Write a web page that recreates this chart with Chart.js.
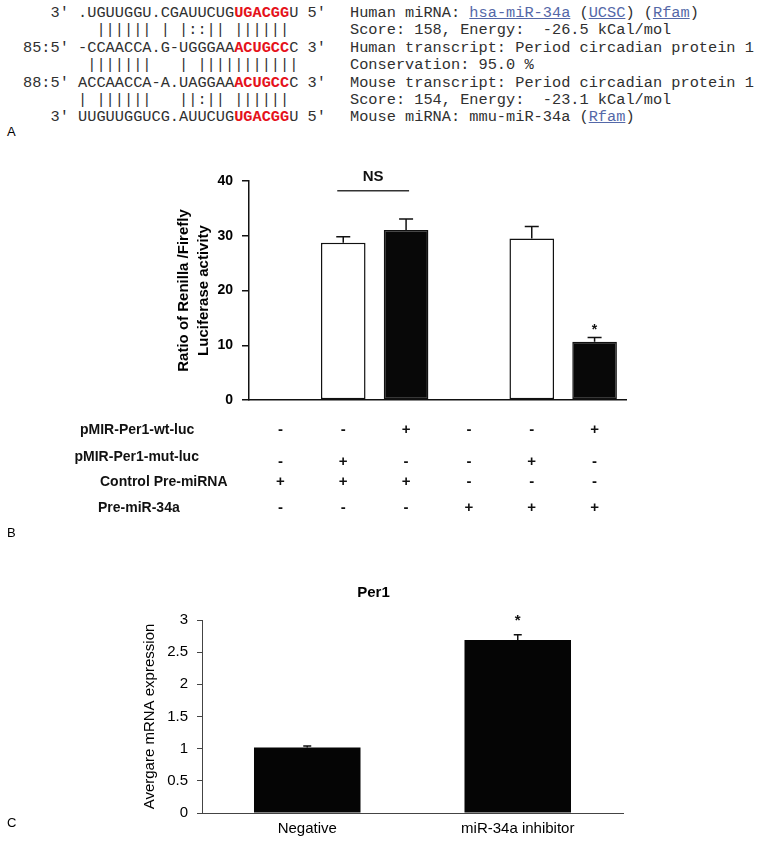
<!DOCTYPE html>
<html><head><meta charset="utf-8">
<script src="https://cdn.jsdelivr.net/npm/chart.js@4"></script>
<style>
html,body{margin:0;padding:0;background:#fff;width:762px;height:844px;overflow:hidden;position:relative;}
.mono{position:absolute;top:5px;margin:0;font-family:"Liberation Mono",monospace;font-size:15.3px;line-height:17.4px;white-space:pre;color:#303030;}
.red{color:#e5121b;font-weight:bold;}
.lnk{color:#5468a8;text-decoration:underline;}
.plabel{position:absolute;left:7px;font-family:"Liberation Sans",Arial,sans-serif;font-size:13px;line-height:13px;color:#000;z-index:2;}
canvas{position:absolute;left:0;}
#cb{top:150px;}
#cc{top:570px;}
</style></head>
<body>
<pre class="mono" style="left:23px;">   3' .UGUUGGU.CGAUUCUG<span class="red">UGACGG</span>U 5'
        |||||| | |::|| ||||||
85:5' -CCAACCA.G-UGGGAA<span class="red">ACUGCC</span>C 3'
       |||||||   | |||||||||||
88:5' ACCAACCA-A.UAGGAA<span class="red">ACUGCC</span>C 3'
      | ||||||   ||:|| ||||||
   3' UUGUUGGUCG.AUUCUG<span class="red">UGACGG</span>U 5'</pre>
<pre class="mono" style="left:350px;">Human miRNA: <span class="lnk">hsa-miR-34a</span> (<span class="lnk">UCSC</span>) (<span class="lnk">Rfam</span>)
Score: 158, Energy:  -26.5 kCal/mol
Human transcript: Period circadian protein 1
Conservation: 95.0 %
Mouse transcript: Period circadian protein 1
Score: 154, Energy:  -23.1 kCal/mol
Mouse miRNA: mmu-miR-34a (<span class="lnk">Rfam</span>)</pre>
<div class="plabel" style="top:125px;">A</div>
<div class="plabel" style="top:526px;">B</div>
<div class="plabel" style="top:816px;">C</div>
<canvas id="cb" width="762" height="400"></canvas>
<canvas id="cc" width="762" height="274"></canvas>
<script>
// ---------- data ----------
const barCategories = ['1', '2', '3', '4', '5', '6'];
const ratioValues = [0, 28.7, 31.05, 0, 29.5, 10.65];
const ratioErrors = [0, 1.1, 2.0, 0, 2.2, 0.75];
const ratioTicks = [0, 10, 20, 30, 40];
const ratioTitle = ['Ratio of Renilla /Firefly', 'Luciferase activity'];
const tableRowLabels = ['pMIR-Per1-wt-luc', 'pMIR-Per1-mut-luc', 'Control Pre-miRNA', 'Pre-miR-34a'];
const wtLucRow = ['-', '-', '+', '-', '-', '+'];
const mutLucRow = ['-', '+', '-', '-', '+', '-'];
const controlRow = ['+', '+', '+', '-', '-', '-'];
const preMirRow = ['-', '-', '-', '+', '+', '+'];
const nsPair = [1, 2];
const nsLevel = 38.2;
const nsTextLevel = 40.8;
const starBIndex = 5;
const starBLevel = 13.5;

const per1Categories = ['Negative', 'miR-34a inhibitor'];
const per1Values = [1.02, 2.69];
const per1Errors = [0.02, 0.08];
const per1Ticks = [0, 0.5, 1, 1.5, 2, 2.5, 3];
const per1Title = 'Per1';
const per1AxisTitle = 'Avergare mRNA expression';
const starCIndex = 1;
const starCLevel = 3.06;

// ---------- helpers ----------
const SANS = '"Liberation Sans", Arial, sans-serif';
Chart.defaults.font.family = SANS;
Chart.defaults.color = '#000';

const errorBars = {
  id: 'errorBars',
  afterDatasetsDraw(chart, args, opts) {
    const {ctx, scales: {x, y}} = chart;
    const vals = chart.data.datasets[0].data;
    ctx.save();
    ctx.strokeStyle = opts.color;
    ctx.lineWidth = opts.lineWidth;
    opts.errors.forEach((e, i) => {
      if (!e) return;
      const px = x.getPixelForValue(i);
      const top = y.getPixelForValue(vals[i]);
      const end = y.getPixelForValue(vals[i] + e);
      ctx.beginPath();
      ctx.moveTo(px, top); ctx.lineTo(px, end);
      ctx.moveTo(px - opts.cap / 2, end); ctx.lineTo(px + opts.cap / 2, end);
      ctx.stroke();
    });
    ctx.restore();
  }
};

const annotB = {
  id: 'annotB',
  afterDraw(chart) {
    const {ctx, scales: {x, y}} = chart;
    ctx.save();
    // NS bracket
    const x1 = x.getPixelForValue(nsPair[0]) - 6;
    const x2 = x.getPixelForValue(nsPair[1]) + 3;
    const ly = y.getPixelForValue(nsLevel);
    ctx.strokeStyle = '#333'; ctx.lineWidth = 1.5;
    ctx.beginPath(); ctx.moveTo(x1, ly); ctx.lineTo(x2, ly); ctx.stroke();
    ctx.fillStyle = '#111';
    ctx.font = 'bold 15px ' + SANS;
    ctx.textAlign = 'center'; ctx.textBaseline = 'middle';
    ctx.fillText('NS', (x1 + x2) / 2, y.getPixelForValue(nsTextLevel));
    // asterisk
    ctx.font = 'bold 14px ' + SANS;
    ctx.textBaseline = 'alphabetic';
    ctx.fillText('*', x.getPixelForValue(starBIndex), y.getPixelForValue(starBLevel) + 7.8);
    // table
    const rows = [wtLucRow, mutLucRow, controlRow, preMirRow];
    const labelX = [80, 74.5, 100, 98];
    const labelY = [280, 306.7, 331.7, 358];
    const signY = [280, 311.7, 331.7, 358];
    ctx.textBaseline = 'middle';
    ctx.font = 'bold 14px ' + SANS;
    ctx.textAlign = 'left';
    tableRowLabels.forEach((t, r) => ctx.fillText(t, labelX[r], labelY[r]));
    ctx.font = 'bold 15px ' + SANS;
    ctx.textAlign = 'center';
    rows.forEach((row, r) => row.forEach((s, i) => {
      ctx.fillText(s, x.getPixelForValue(i), signY[r]);
    }));
    ctx.restore();
  }
};

const annotC = {
  id: 'annotC',
  afterDraw(chart) {
    const {ctx, scales: {x, y}} = chart;
    ctx.save();
    ctx.fillStyle = '#111';
    ctx.font = 'bold 15px ' + SANS;
    ctx.textAlign = 'center'; ctx.textBaseline = 'alphabetic';
    ctx.fillText('*', x.getPixelForValue(starCIndex), y.getPixelForValue(starCLevel) + 8.4);
    ctx.restore();
  }
};

// ---------- chart B ----------
new Chart(document.getElementById('cb'), {
  type: 'bar',
  data: {
    labels: barCategories,
    datasets: [{
      data: ratioValues,
      backgroundColor: wtLucRow.map(s => s === '+' ? '#080808' : '#ffffff'),
      borderColor: '#111',
      borderWidth: 1.5,
      borderSkipped: false,
      categoryPercentage: 1,
      barPercentage: 0.71
    }]
  },
  options: {
    responsive: false, animation: false,
    layout: {padding: {left: 165, right: 136, top: 31, bottom: 0}},
    plugins: {legend: {display: false}, tooltip: {enabled: false},
      errorBars: {errors: ratioErrors, cap: 14, lineWidth: 1.5, color: '#111'}},
    scales: {
      x: {
        grid: {display: false, drawTicks: false},
        ticks: {display: false},
        border: {display: true, color: '#111', width: 1.5},
        afterFit(s) { s.height = 150; }
      },
      y: {
        min: 0, max: 40,
        afterBuildTicks(s) { s.ticks = ratioTicks.map(v => ({value: v})); },
        grid: {display: true, drawOnChartArea: false, drawTicks: true, tickLength: 7, color: '#111', lineWidth: 1.5},
        border: {display: true, color: '#111', width: 1.5},
        ticks: {font: {size: 14, weight: 'bold'}, color: '#000', padding: 9, callback: v => String(v)},
        title: {display: true, text: ratioTitle, font: {size: 15, weight: 'bold', lineHeight: 1.3333}, color: '#000', padding: {top: 8.5, bottom: 0}},
        afterFit(s) { s.width = 84; }
      }
    }
  },
  plugins: [errorBars, annotB]
});

// ---------- chart C ----------
new Chart(document.getElementById('cc'), {
  type: 'bar',
  data: {
    labels: per1Categories,
    datasets: [{
      data: per1Values,
      backgroundColor: '#050505',
      borderColor: '#050505',
      borderWidth: 0,
      categoryPercentage: 1,
      barPercentage: 0.506
    }]
  },
  options: {
    responsive: false, animation: false,
    layout: {padding: {left: 124, right: 139, top: 0, bottom: 0}},
    plugins: {
      legend: {display: false}, tooltip: {enabled: false},
      title: {display: true, text: per1Title, font: {size: 15, weight: 'bold'}, color: '#000', padding: {top: 14, bottom: 18}},
      errorBars: {errors: per1Errors, cap: 8, lineWidth: 1.5, color: '#111'}
    },
    scales: {
      x: {
        grid: {display: false, drawTicks: false},
        ticks: {font: {size: 15}, color: '#000', padding: 7},
        border: {display: true, color: '#444', width: 1},
        afterFit(s) { s.height = 31; }
      },
      y: {
        min: 0, max: 3,
        afterBuildTicks(s) { s.ticks = per1Ticks.map(v => ({value: v})); },
        grid: {display: true, drawOnChartArea: false, drawTicks: true, tickLength: 5, color: '#444', lineWidth: 1},
        border: {display: true, color: '#444', width: 1},
        ticks: {font: {size: 15}, color: '#000', padding: 9, callback: v => String(v)},
        title: {display: true, text: per1AxisTitle, font: {size: 15}, color: '#000', padding: {top: 17, bottom: 0}},
        afterFit(s) { s.width = 78; }
      }
    }
  },
  plugins: [errorBars, annotC]
});
</script>
</body></html>
